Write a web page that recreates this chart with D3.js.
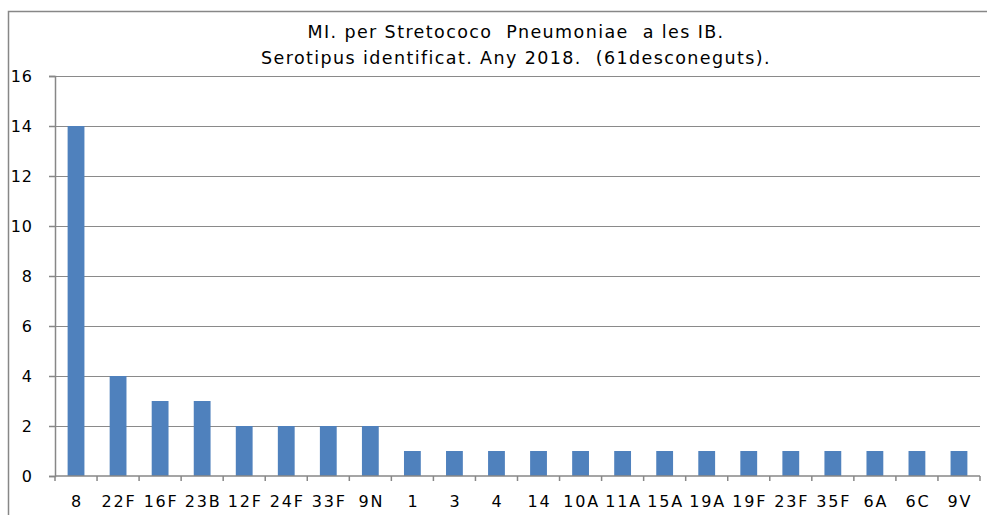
<!DOCTYPE html>
<html>
<head>
<meta charset="utf-8">
<script src="https://cdn.jsdelivr.net/npm/d3@7"></script>
<style>
body { margin: 0; background: #fff; }
text { font-family: "DejaVu Sans", Verdana, sans-serif; fill: #000; white-space: pre; }
</style>
</head>
<body>
<script>
var w = 987, h = 515;
var titleLines = ["MI. per Stretococo  Pneumoniae  a les IB.", "Serotipus identificat. Any 2018.  (61desconeguts)."];
var serotips = ["8","22F","16F","23B","12F","24F","33F","9N","1","3","4","14","10A","11A","15A","19A","19F","23F","35F","6A","6C","9V"];
var casos = [14,4,3,3,2,2,2,2,1,1,1,1,1,1,1,1,1,1,1,1,1,1];
var yTicks = [0,2,4,6,8,10,12,14,16];

var m = {left: 55, right: 7, top: 76, bottom: 39};

var svg = d3.select("body").append("svg")
    .attr("width", w)
    .attr("height", h);

// chart frame (right and bottom edges fall outside the picture)
svg.append("rect")
    .attr("x", 8.5).attr("y", 11.5)
    .attr("width", 1000).attr("height", 520)
    .style("fill", "none")
    .style("stroke", "#878787")
    .style("stroke-width", 1.5);

var x = d3.scaleBand()
    .domain(serotips)
    .range([m.left, w - m.right])
    .paddingInner(0.6)
    .paddingOuter(0.3);

var y = d3.scaleLinear()
    .domain([0, 16])
    .range([h - m.bottom, m.top]);

// gridlines
svg.append("g").selectAll("line")
    .data(yTicks.filter(function(d){return d > 0;}))
    .enter()
    .append("line")
    .attr("x1", m.left).attr("x2", w - m.right)
    .attr("y1", function(d){return Math.round(y(d)) + 0.5;})
    .attr("y2", function(d){return Math.round(y(d)) + 0.5;})
    .style("stroke", "#8a8a8a")
    .style("stroke-width", 1.2);

// bars
svg.append("g").selectAll("rect")
    .data(casos)
    .enter()
    .append("rect")
    .attr("x", function(d,i){return x(serotips[i]);})
    .attr("width", x.bandwidth())
    .attr("y", function(d){return y(d);})
    .attr("height", function(d){return y(0) - y(d);})
    .style("fill", "#4f81bd");

// y axis
var yAxis = svg.append("g")
    .attr("transform", "translate(" + m.left + ",0)")
    .call(d3.axisLeft(y).tickValues(yTicks).tickSize(6).tickPadding(16));
yAxis.selectAll("path, line").style("stroke", "#878787").style("stroke-width", 1.5);
yAxis.selectAll("text")
    .style("font-size", "16px")
    .style("letter-spacing", "1px")
    .style("font-family", "'DejaVu Sans', sans-serif")
    .attr("fill", "#000");

// x axis: ticks between categories
var xAxis = svg.append("g")
    .attr("transform", "translate(0," + y(0) + ")");
xAxis.append("line")
    .attr("x1", m.left).attr("x2", w - m.right)
    .style("stroke", "#878787").style("stroke-width", 1.5);
var bounds = d3.range(serotips.length + 1).map(function(i){return m.left + i * (w - m.right - m.left) / serotips.length;});
xAxis.selectAll("line.tk")
    .data(bounds)
    .enter()
    .append("line")
    .attr("class", "tk")
    .attr("x1", function(d){return d;}).attr("x2", function(d){return d;})
    .attr("y1", 0).attr("y2", 5)
    .style("stroke", "#878787").style("stroke-width", 1.5);
xAxis.selectAll("text")
    .data(serotips)
    .enter()
    .append("text")
    .attr("x", function(d){return x(d) + x.bandwidth() / 2 + 1;})
    .attr("y", 31)
    .attr("text-anchor", "middle")
    .style("font-size", "16px")
    .style("letter-spacing", "1.8px")
    .text(function(d){return d;});

// title
svg.append("g").selectAll("text")
    .data(titleLines)
    .enter()
    .append("text")
    .attr("x", 516)
    .attr("y", function(d,i){return 38 + i * 26;})
    .attr("text-anchor", "middle")
    .style("font-size", "17.5px")
    .style("letter-spacing", "1.4px")
    .text(function(d){return d;});
</script>
</body>
</html>
